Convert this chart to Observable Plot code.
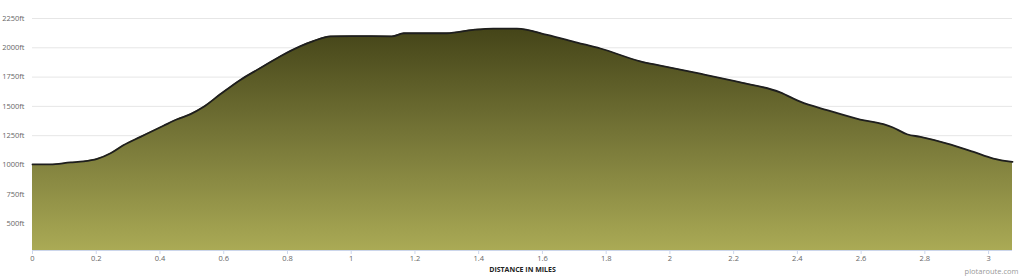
<!DOCTYPE html>
<html>
<head>
<meta charset="utf-8">
<script src="https://cdn.jsdelivr.net/npm/d3@7"></script>
<script src="https://cdn.jsdelivr.net/npm/@observablehq/plot@0.6"></script>
<style>
  html, body { margin: 0; padding: 0; background: #fff; }
  #chart svg { display: block; }
</style>
</head>
<body>
<div id="chart"></div>
<script>
const miles = [0, 0.056, 0.119, 0.16, 0.203, 0.245, 0.285, 0.339, 0.411, 0.454, 0.496, 0.536, 0.59, 0.652, 0.715, 0.778, 0.841, 0.881, 0.935, 1.0, 1.128, 1.165, 1.30, 1.383, 1.446, 1.52, 1.615, 1.709, 1.782, 1.907, 1.97, 2.095, 2.221, 2.346, 2.409, 2.493, 2.597, 2.670, 2.70, 2.744, 2.786, 2.87, 2.953, 3.015, 3.075];
const elevationFt = [1005, 1005, 1022, 1030, 1052, 1100, 1168, 1240, 1335, 1390, 1434, 1494, 1605, 1726, 1827, 1928, 2014, 2057, 2098, 2100, 2098, 2124, 2124, 2153, 2164, 2164, 2110, 2044, 1994, 1885, 1848, 1779, 1705, 1620, 1540, 1468, 1388, 1348, 1320, 1262, 1240, 1183, 1111, 1055, 1026];
const yTicks = [500, 750, 1000, 1250, 1500, 1750, 2000, 2250];
const xTicks = [0, 0.2, 0.4, 0.6, 0.8, 1, 1.2, 1.4, 1.6, 1.8, 2, 2.2, 2.4, 2.6, 2.8, 3];
const xTitle = "DISTANCE IN MILES";
const credit = "plotaroute.com";

const data = miles.map((m, i) => ({miles: m, ft: elevationFt[i]}));
const yMin = 270, yMax = 2250;

const svg = Plot.plot({
  width: 1024,
  height: 278,
  marginTop: 18,
  marginBottom: 28,
  marginLeft: 32,
  marginRight: 12,
  style: {fontFamily: "'Open Sans', sans-serif", fontSize: "7.5px", color: "#666", background: "#fff"},
  x: {domain: [0, 3.075]},
  y: {domain: [yMin, yMax]},
  marks: [
    Plot.gridY(yTicks, {stroke: "#e6e6e6", strokeOpacity: 1}),
    Plot.areaY(data, {x: "miles", y1: yMin, y2: "ft", fill: "url(#elevGrad)", curve: "monotone-x"}),
    Plot.lineY(data, {x: "miles", y: "ft", stroke: "#1e1e1e", strokeWidth: 1.8, curve: "monotone-x"}),
    Plot.ruleY([yMin], {stroke: "#ccd6eb"}),
    Plot.axisY(yTicks, {tickSize: 0, tickPadding: 8, tickFormat: d => d + "ft", label: null, fill: "#666"}),
    Plot.axisX(xTicks, {tickSize: 4, tickPadding: 1, stroke: "#ccd6eb", fill: "#666", tickFormat: d => String(+d.toFixed(1)), label: null}),
    Plot.text([xTitle], {frameAnchor: "bottom", dy: 21, fontWeight: "bold", fontSize: 7, fill: "#222"}),
    Plot.text([credit], {frameAnchor: "bottom-right", textAnchor: "end", dx: 6, dy: 23, fontSize: 7.5, fill: "#999"})
  ]
});

const defs = d3.select(svg).insert("defs", ":first-child");
const grad = defs.append("linearGradient").attr("id", "elevGrad").attr("x1", 0).attr("y1", 0).attr("x2", 0).attr("y2", 1);
grad.append("stop").attr("offset", "0%").attr("stop-color", "#444418");
grad.append("stop").attr("offset", "50%").attr("stop-color", "#777738");
grad.append("stop").attr("offset", "100%").attr("stop-color", "#aaaa55");

document.getElementById("chart").appendChild(svg);
</script>
</body>
</html>
